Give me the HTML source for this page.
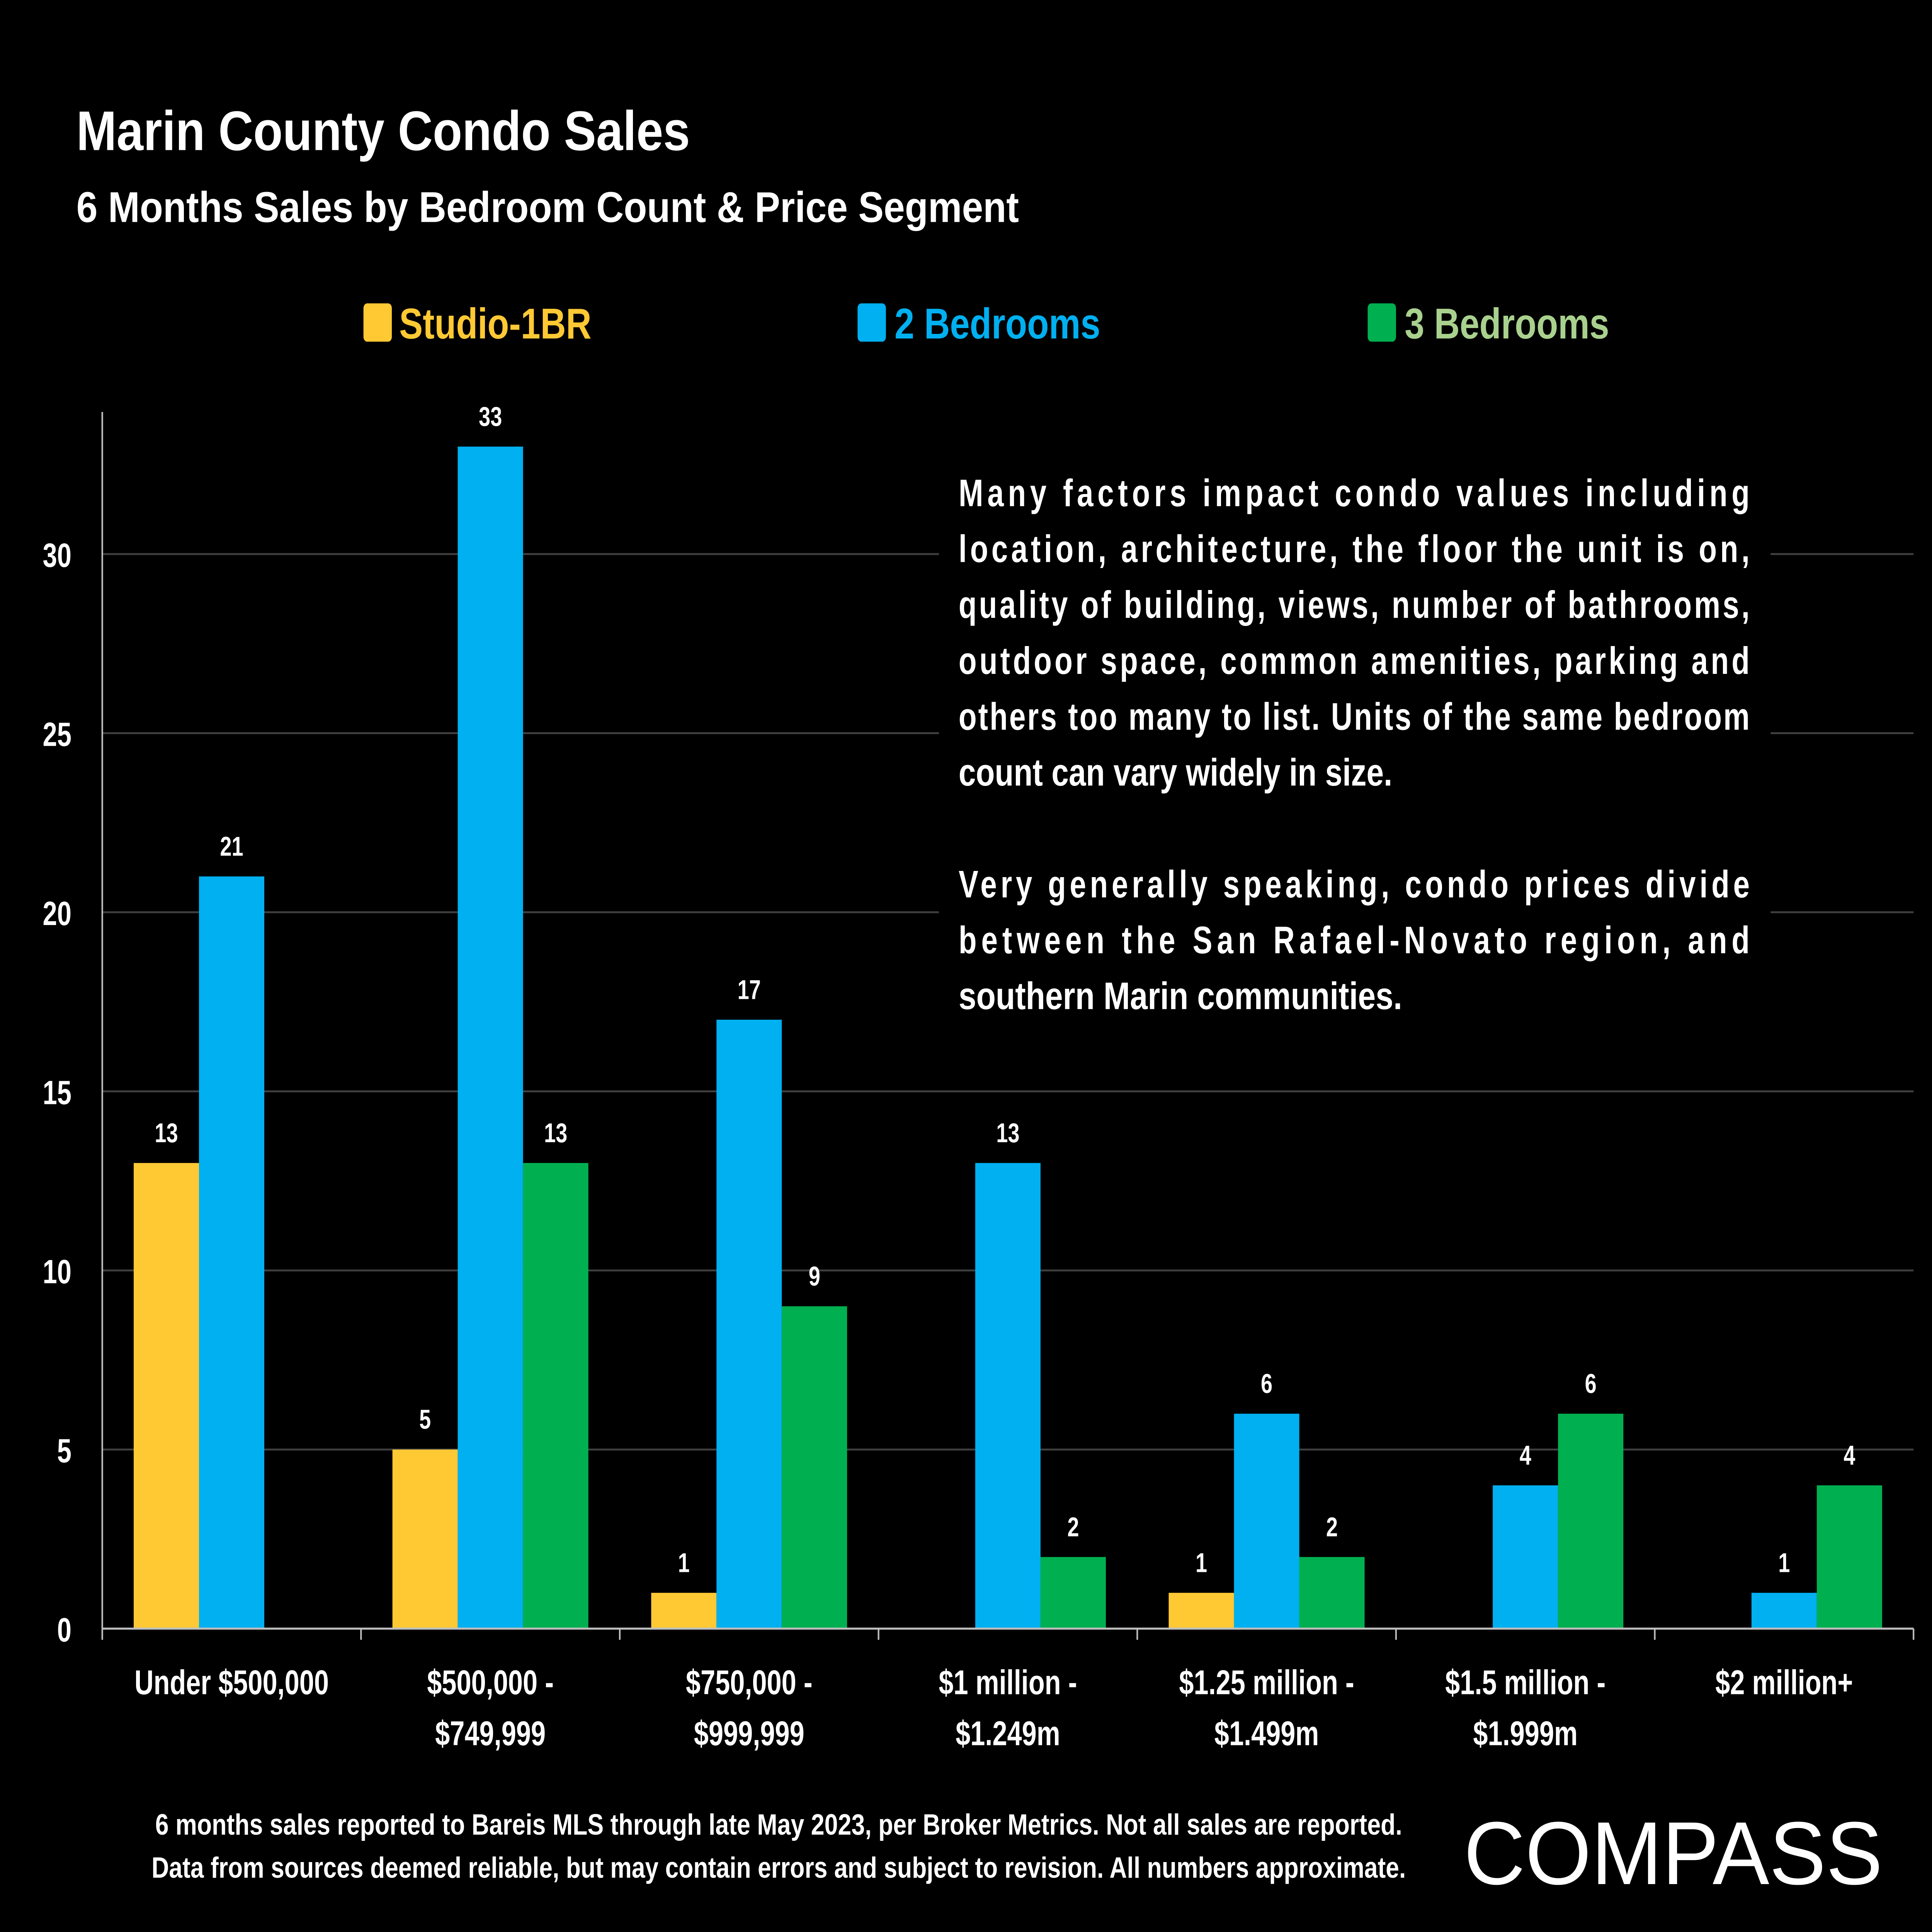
<!DOCTYPE html>
<html><head><meta charset="utf-8">
<style>
html,body{margin:0;padding:0;background:#000;width:100%;height:100%;overflow:hidden;}
#wrap{position:fixed;left:0;top:0;width:100vw;height:100vh;overflow:hidden;}
svg{display:block;position:absolute;left:0;top:0;width:100vw;height:100vh;overflow:hidden;}
text{font-family:"Liberation Sans",sans-serif;font-weight:bold;}
</style></head>
<body>
<div id="wrap">
<svg id="chart" xmlns="http://www.w3.org/2000/svg" viewBox="0 0 1568 1210" preserveAspectRatio="none">
<rect width="1568" height="1210" fill="#000"/>
<text x="62" y="94" fill="#fff" font-size="35" textLength="498" lengthAdjust="spacingAndGlyphs">Marin County Condo  Sales</text>
<text x="62" y="139" fill="#fff" font-size="27" textLength="765" lengthAdjust="spacingAndGlyphs">6 Months Sales by Bedroom Count &amp; Price Segment</text>

<g>
  <g><rect x="295" y="190" width="23" height="24" rx="3" fill="#FFC934"/><text x="324" y="212" fill="#FFC934" font-size="27" textLength="156" lengthAdjust="spacingAndGlyphs">Studio-1BR</text></g>
  <g><rect x="696" y="190" width="23" height="24" rx="3" fill="#00B0F0"/><text x="726" y="212" fill="#00B0F0" font-size="27" textLength="167" lengthAdjust="spacingAndGlyphs">2 Bedrooms</text></g>
  <g><rect x="1110" y="190" width="23" height="24" rx="3" fill="#00B050"/><text x="1140" y="212" fill="#A9D18E" font-size="27" textLength="166" lengthAdjust="spacingAndGlyphs">3 Bedrooms</text></g>
</g>

<g id="grid"></g>
<g id="bars"></g>
<g id="axes"></g>

<g>
  <rect x="762" y="285" width="675" height="360" fill="#000"/>
  <g fill="#fff" font-size="24">
    <text x="778" y="317" textLength="642" lengthAdjust="spacing">Many factors impact condo values including</text>
    <text x="778" y="352" textLength="642" lengthAdjust="spacing">location, architecture, the floor the unit is on,</text>
    <text x="778" y="387" textLength="642" lengthAdjust="spacing">quality of building, views, number of bathrooms,</text>
    <text x="778" y="422" textLength="642" lengthAdjust="spacing">outdoor space, common amenities, parking and</text>
    <text x="778" y="457" textLength="642" lengthAdjust="spacing">others too many to list. Units of the same bedroom</text>
    <text x="778" y="492" textLength="352" lengthAdjust="spacingAndGlyphs">count can vary widely in size.</text>
    <text x="778" y="562" textLength="642" lengthAdjust="spacing">Very generally speaking, condo prices divide</text>
    <text x="778" y="597" textLength="642" lengthAdjust="spacing">between the San Rafael-Novato region, and</text>
    <text x="778" y="632" textLength="360" lengthAdjust="spacingAndGlyphs">southern Marin communities.</text>
  </g>
</g>

<g fill="#fff" font-size="18.5" text-anchor="middle">
  <text x="632" y="1149" textLength="1012" lengthAdjust="spacingAndGlyphs">6 months sales reported to Bareis MLS through late May 2023, per Broker Metrics. Not all sales are reported.</text>
  <text x="632" y="1176" textLength="1018" lengthAdjust="spacingAndGlyphs">Data from sources deemed reliable, but may contain errors and subject to revision. All numbers approximate.</text>
</g>
<g>
  <text x="1188" y="1180" fill="#fff" font-size="56" style="font-weight:normal" textLength="340" lengthAdjust="spacingAndGlyphs">COMPASS</text>
</g>

<script>
const categories = ["Under $500,000|", "$500,000 -|$749,999", "$750,000 -|$999,999", "$1 million -|$1.249m", "$1.25 million -|$1.499m", "$1.5 million -|$1.999m", "$2 million+|"];
const studioVals = [13, 5, 1, 0, 1, 0, 0];
const twoVals = [21, 33, 17, 13, 6, 4, 1];
const threeVals = [0, 13, 9, 2, 2, 6, 4];
const yTicks = [0, 5, 10, 15, 20, 25, 30];

const NS = "http://www.w3.org/2000/svg";
const X0 = 83, X1 = 1553, Y0 = 1020, PER = (1020 - 347) / 30;
function yScale(v){ return Y0 - v * PER; }
function xBand(i){ return X0 + i * (X1 - X0) / categories.length; }
const bandW = (X1 - X0) / categories.length;
const barW = 53;
function mk(tag, attrs, parent){
  const e = document.createElementNS(NS, tag);
  for (const k in attrs) e.setAttribute(k, attrs[k]);
  parent.appendChild(e);
  return e;
}
const grid = document.getElementById('grid');
const bars = document.getElementById('bars');
const axes = document.getElementById('axes');

yTicks.forEach(t => {
  if (t > 0) {
    const l = mk('line', {x1: X0, x2: X1, y1: yScale(t), y2: yScale(t), stroke: '#3f3f3f', 'stroke-width': 1.2}, grid);
    
    
  }
  const tx = mk('text', {x: 58, y: yScale(t) + 8, fill: '#fff', 'font-size': 21, 'text-anchor': 'end'}, axes);
  tx.textContent = t;
  
  
});

const yAxis = mk('line', {x1: X0, x2: X0, y1: 258, y2: Y0, stroke: '#bfbfbf', 'stroke-width': 1.3}, axes);


const xAxis = mk('line', {x1: X0, x2: X1, y1: Y0, y2: Y0, stroke: '#bfbfbf', 'stroke-width': 1.3}, axes);



for (let i = 0; i <= categories.length; i++) {
  const tk = mk('line', {x1: xBand(i), x2: xBand(i), y1: Y0, y2: Y0 + 7, stroke: '#bfbfbf', 'stroke-width': 1.3}, axes);
  
  
}

const series = [[studioVals, '#FFC934', 'studio'], [twoVals, '#00B0F0', '2br'], [threeVals, '#00B050', '3br']];
categories.forEach((c, i) => {
  const start = xBand(i) + (bandW - 3 * barW) / 2;
  series.forEach((s, j) => {
    const v = s[0][i];
    if (v <= 0) return;
    const x = start + j * barW;
    const r = mk('rect', {x: x, y: yScale(v), width: barW, height: Y0 - yScale(v), fill: s[1]}, bars);
    
    
    const lb = mk('text', {x: x + barW / 2, y: yScale(v) - 13, fill: '#fff', 'font-size': 17, 'text-anchor': 'middle'}, bars);
    lb.textContent = v;
    
    
  });
  const parts = c.split('|');
  parts.forEach((p, k) => {
    if (!p) return;
    const t = mk('text', {x: xBand(i) + bandW / 2, y: 1061 + k * 32, fill: '#fff', 'font-size': 21.5, 'text-anchor': 'middle'}, axes);
    t.textContent = p;
    
    
  });
});
</script>
</svg>
</div>
</body></html>
